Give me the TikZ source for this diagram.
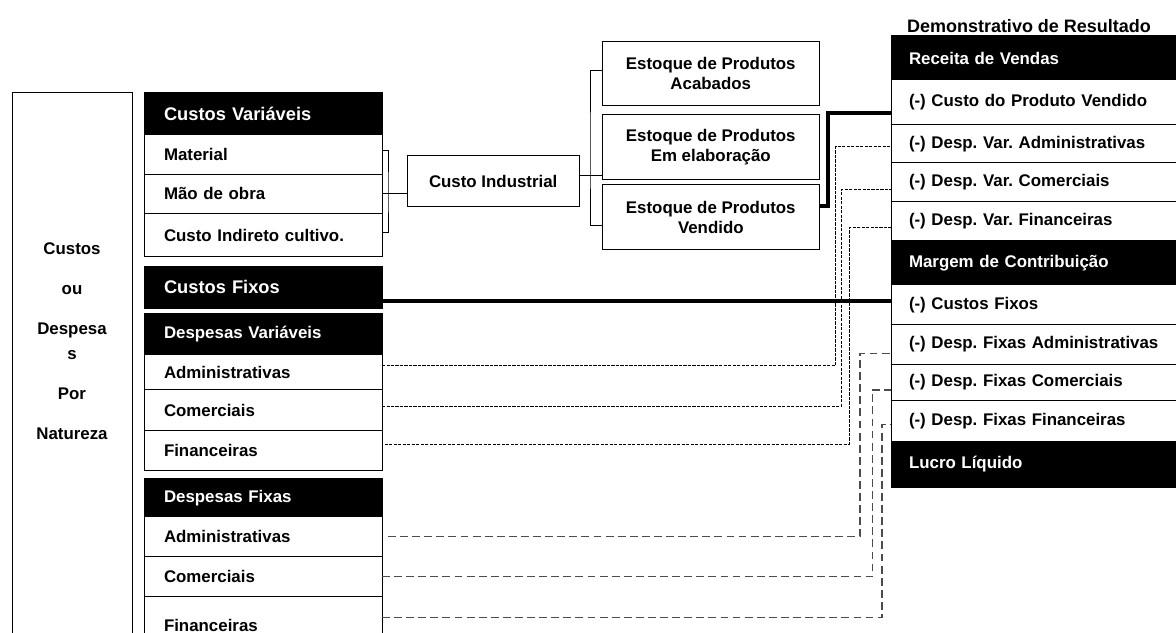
\documentclass[tikz,border=0pt]{standalone}
\usepackage{fontspec}
\setmainfont{Liberation Sans}
\usepackage{xcolor}
\usepackage{tikz}
\usetikzlibrary{positioning}
\frenchspacing

\begin{document}
\begin{tikzpicture}
\tikzstyle{every node}=[font=\fontsize{12}{14.4}\selectfont\bfseries]
\tikzstyle{linha}=[draw=black, fill=white, line width=0.7pt, outer sep=0pt, inner ysep=0pt, inner xsep=0.5cm, text width=4.95cm, align=left]
\tikzstyle{titulo}=[linha, fill=black, text=white]
\tikzstyle{dre}=[linha, inner xsep=0.45cm, text width=6.35cm]
\tikzstyle{drehead}=[dre, fill=black, text=white]
\tikzstyle{caixa}=[draw=black, line width=0.7pt, outer sep=0pt, align=center, font=\fontsize{12}{14.2}\selectfont\bfseries]
\tikzstyle{grande}=[font=\fontsize{13}{15.6}\selectfont\bfseries]
\tikzstyle{grosso}=[line width=2.8pt]
\tikzstyle{fino}=[line width=0.7pt]
\tikzstyle{pontilhado}=[line width=0.6pt, dash pattern=on 2.2pt off 1pt]
\tikzstyle{tracejado}=[line width=0.8pt, draw=black!70, dash pattern=on 5.6pt off 3pt]
\useasboundingbox (0,0) rectangle (29.4,15.825);

\node [draw, line width=0.7pt, outer sep=0pt, minimum width=3cm, minimum height=13.8cm, anchor=north west] (natureza) at (0.3,13.52) {};
\node [align=center, font=\fontsize{12}{17.8}\selectfont\bfseries] (naturezatxt) at (1.8,7.3) {Custos\\[10.7pt]ou\\[10.7pt]Despesa\\s\\[10.7pt]Por\\[10.7pt]Natureza};

\node [titulo, grande, minimum height=1.05cm, anchor=north west] (cvHead) at (3.6,13.5) {Custos Vari\'aveis};
\node [linha, minimum height=0.98cm, below=0pt of cvHead] (cvMat) {Material};
\node [linha, minimum height=0.98cm, below=0pt of cvMat] (cvMao) {M\~ao de obra};
\node [linha, minimum height=1.08cm, below=0pt of cvMao] (cvCI) {Custo Indireto cultivo.};

\node [titulo, grande, minimum height=1.04cm, anchor=north west] (cf) at (3.6,9.16) {Custos Fixos};

\node [titulo, minimum height=1.04cm, anchor=north west] (dvHead) at (3.6,7.99) {Despesas Vari\'aveis};
\node [linha, minimum height=0.86cm, below=0pt of dvHead] (dvAdm) {Administrativas};
\node [linha, minimum height=1.035cm, below=0pt of dvAdm] (dvCom) {Comerciais};
\node [linha, minimum height=1cm, below=0pt of dvCom] (dvFin) {Financeiras};

\node [titulo, minimum height=0.955cm, anchor=north west] (dfHead) at (3.6,3.86) {Despesas Fixas};
\node [linha, minimum height=1cm, below=0pt of dfHead] (dfAdm) {Administrativas};
\node [linha, minimum height=1cm, below=0pt of dfAdm] (dfCom) {Comerciais};
\node [linha, minimum height=1.42cm, below=0pt of dfCom] (dfFin) {Financeiras};

\node [caixa, minimum width=4.3cm, minimum height=1.27cm] (ci) at (12.33,11.29) {Custo Industrial};
\node [caixa, minimum width=5.43cm, minimum height=1.61cm] (eAcab) at (17.77,13.98) {Estoque de Produtos\\Acabados};
\node [caixa, minimum width=5.43cm, minimum height=1.625cm] (eProc) at (17.77,12.14) {Estoque de Produtos\\Em elabora\c{c}\~ao};
\node [caixa, minimum width=5.43cm, minimum height=1.61cm] (eVend) at (17.77,10.395) {Estoque de Produtos\\Vendido};

\node [font=\fontsize{12.8}{15}\selectfont\bfseries] (demonstrativo) at (25.725,15.175) {Demonstrativo de Resultado};
\node [drehead, minimum height=1.1cm, anchor=north west] (dRec) at (22.275,14.925) {Receita de Vendas};
\node [dre, minimum height=1.125cm, below=0pt of dRec] (dCPV) {(-) Custo do Produto Vendido};
\node [dre, minimum height=0.94cm, below=0pt of dCPV] (dVarAdm) {(-) Desp. Var. Administrativas};
\node [dre, minimum height=0.975cm, below=0pt of dVarAdm] (dVarCom) {(-) Desp. Var. Comerciais};
\node [dre, minimum height=0.975cm, below=0pt of dVarCom] (dVarFin) {(-) Desp. Var. Financeiras};
\node [drehead, minimum height=1.11cm, below=0pt of dVarFin] (dMC) {Margem de Contribui\c{c}\~ao};
\node [dre, minimum height=1cm, below=0pt of dMC] (dCF) {(-) Custos Fixos};
\node [dre, minimum height=0.98cm, below=0pt of dCF] (dFixAdm) {(-) Desp. Fixas Administrativas};
\node [dre, minimum height=0.91cm, below=0pt of dFixAdm] (dFixCom) {(-) Desp. Fixas Comerciais};
\node [dre, minimum height=1.01cm, below=0pt of dFixCom] (dFixFin) {(-) Desp. Fixas Financeiras};
\node [drehead, minimum height=1.16cm, below=0pt of dFixFin] (dLL) {Lucro L\'iquido};

\coordinate (kCV) at (9.7,11);
\draw [fino] ([yshift=0.09cm]cvMat.east) -| (kCV) |- ([yshift=0.05cm]cvCI.east);
\draw [fino] (cvMao.east) -- (cvMao.east -| ci.west);
\coordinate (sCI) at ([yshift=0.15cm]ci.east);
\draw [fino] (sCI) -- (sCI -| eProc.west);
\coordinate (kEst) at (14.75,12);
\draw [fino] ([yshift=0.08cm]eAcab.west) -| (kEst) |- ([yshift=-0.2cm]eVend.west);

\coordinate (kCPV) at (20.7,11.5);
\draw [grosso] ([yshift=0.29cm]eVend.east) -| (kCPV) |- ([yshift=-0.26cm]dCPV.west);
\coordinate (sCF) at ([yshift=-0.35cm]cf.east);
\draw [grosso] (sCF) -- (sCF -| dCF.west);

\coordinate (kVA) at (20.89,9);
\coordinate (kVC) at (21.04,9);
\coordinate (kVF) at (21.23,9);
\draw [pontilhado] ([yshift=0.16cm]dvAdm.east) -| (kVA) |- ([yshift=-0.07cm]dVarAdm.west);
\draw [pontilhado] ([yshift=0.1cm]dvCom.east) -| (kVC) |- ([yshift=-0.18cm]dVarCom.west);
\draw [pontilhado, shorten <=0.07cm] ([yshift=0.17cm]dvFin.east) -| (kVF) |- ([yshift=-0.17cm]dVarFin.west);

\coordinate (kFA) at (21.5,4);
\coordinate (kFC) at (21.81,4);
\coordinate (kFF) at (22.05,4);
\draw [tracejado, shorten <=0.15cm] (dfAdm.east) -| (kFA) |- ([yshift=-0.22cm]dFixAdm.west);
\draw [tracejado] (dfCom.east) -| (kFC) |- ([yshift=-0.19cm]dFixCom.west);
\draw [tracejado] ([yshift=0.19cm]dfFin.east) -| (kFF) |- ([yshift=-0.1cm]dFixFin.west);
\end{tikzpicture}
\end{document}
